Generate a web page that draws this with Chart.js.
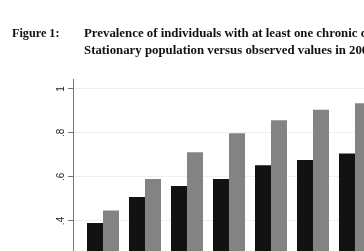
<!DOCTYPE html>
<html>
<head>
<meta charset="utf-8">
<script src="https://cdn.jsdelivr.net/npm/chart.js@4"></script>
<style>
  html, body { margin: 0; padding: 0; background: #fff; width: 364px; height: 251px; overflow: hidden; }
  #wrap { position: relative; width: 364px; height: 251px; overflow: hidden; }
  .t { position: absolute; font-family: "Liberation Serif", "Times New Roman", serif; font-weight: bold; font-size: 11.5px; color: #111; white-space: nowrap; line-height: 17px; transform-origin: 0 0; }
  #c { position: absolute; left: 0; top: 0; }
</style>
</head>
<body>
<div id="wrap">
  <canvas id="c" width="409" height="320" style="width:409px;height:320px"></canvas>
  <div class="t" style="left:12px; top:25px; transform: scaleX(1.06);">Figure 1:</div>
  <div class="t" style="left:84px; top:25px; transform: scaleX(1.115);">Prevalence of individuals with at least one chronic condition by age group:<br>Stationary population versus observed values in 2002</div>
</div>
<script>
const categories = [1, 2, 3, 4, 5, 6, 7];
const observedValues = [0.391, 0.509, 0.559, 0.591, 0.653, 0.677, 0.706];
const stationaryValues = [0.447, 0.591, 0.712, 0.799, 0.858, 0.905, 0.935];
const tickValues = [0, 0.2, 0.4, 0.6, 0.8, 1];
const tickLabels = ['0', '.2', '.4', '.6', '.8', '1'];

const rotatedTicks = {
  id: 'rotatedTicks',
  afterDraw(chart) {
    const y = chart.scales.y;
    const ctx = chart.ctx;
    ctx.save();
    ctx.fillStyle = '#222';
    ctx.font = '10px "Liberation Sans", Arial, sans-serif';
    ctx.textAlign = 'center';
    ctx.textBaseline = 'alphabetic';
    tickValues.forEach((v, i) => {
      const py = y.getPixelForValue(v);
      ctx.save();
      ctx.translate(63.5, py);
      ctx.rotate(-Math.PI / 2);
      ctx.fillText(tickLabels[i], 0, 0);
      ctx.restore();
    });
    ctx.restore();
  }
};

new Chart(document.getElementById('c'), {
  type: 'bar',
  data: {
    datasets: [
      { data: categories.map((c, i) => ({ x: c, y: observedValues[i] })), backgroundColor: '#121212', borderWidth: 0 },
      { data: categories.map((c, i) => ({ x: c, y: stationaryValues[i] })), backgroundColor: '#838383', borderWidth: 0 }
    ]
  },
  options: {
    responsive: false,
    animation: false,
    devicePixelRatio: 1,
    layout: { padding: { left: 0, right: 0, top: 79, bottom: 11 } },
    plugins: { legend: { display: false }, tooltip: { enabled: false }, title: { display: false } },
    datasets: { bar: { categoryPercentage: 32 / 42, barPercentage: 1 } },
    scales: {
      x: { type: 'linear', min: 0.286, max: 8.286, display: false, offset: false },
      y: {
        min: 0, max: 1.045,
        afterBuildTicks(scale) { scale.ticks = tickValues.map(v => ({ value: v })); },
        afterFit(scale) { scale.width = 73; },
        ticks: { display: false },
        grid: { color: '#efefef', lineWidth: 1, drawTicks: true, tickLength: 5, tickColor: '#777' },
        border: { display: true, color: '#777', width: 1 }
      }
    }
  },
  plugins: [rotatedTicks]
});
</script>
</body>
</html>
